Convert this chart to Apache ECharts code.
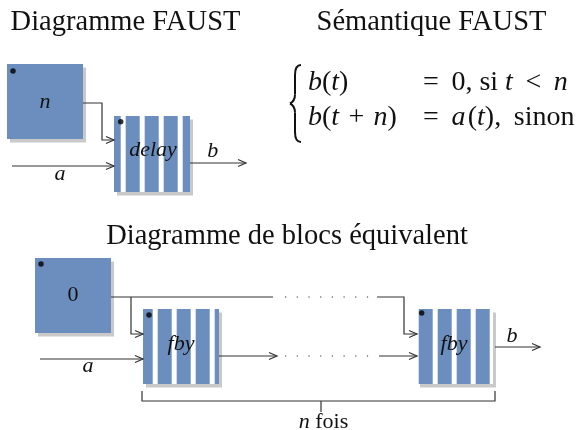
<!DOCTYPE html>
<html><head><meta charset="utf-8">
<script src="https://cdn.jsdelivr.net/npm/echarts@6/dist/echarts.min.js"></script>
<style>html,body{margin:0;padding:0;background:#fff}#c{width:576px;height:430px}</style>
</head><body><div id="c"></div>
<script>
// ---- diagram data (diagram units = page units) ----
// blocks: x, y, width, height, stripe phase (null = plain block)
const blocks = [[7,64,76,75,null],[114,116,76,76,6.7],[35,258,76,75,null],[143,309,76,75,9.7],[417,309,76,75,-3.3]];
const dots = [[13,71],[120.7,121.7],[41,264],[149,315],[421.7,313]];
const arrowWires = [
  [[83,103],[102,103],[102,140],[114,140]],
  [[12,166],[114,166]],
  [[190,163],[246,163]],
  [[377,297],[404,297],[404,334],[417,334]],
  [[131,297],[131,334],[143,334]],
  [[40,359],[143,359]],
  [[219,356],[277,356]],
  [[379,356],[417,356]],
  [[495,347],[540,347]]
];
const plainWires = [
  [[111,297],[273,297]],
  [[142,391],[142,401],[495,401],[495,391]],
  [[321,401],[321,412]]
];
const dottedWires = [
  [[285,297],[370,297]],
  [[285,356],[370,356]]
];
const titles = [["Diagramme FAUST",125.5,23],["Sémantique FAUST",431.5,23],["Diagramme de blocs équivalent",287,237]];
const equations = [
  ["{i|b}({i|t})",308,83],
  ["=\u2009 0, si {i|t}\u2009 <\u2009 {i|n}",423,83],
  ["{i|b}({i|t}\u200a + \u200a{i|n})",308,118],
  ["=\u2009 {i|a}\u200a({i|t}),\u2009 sinon",423,118]
];
const italicLabels = [["n",45,102],["delay",153,150.5],["a",60,174],["b",212.7,151.5],["fby",181,344.5],["a",88,366.5],["fby",454,344],["b",512,336.5]];
const uprightLabels = [["0",73,295.5],["{i|n} fois",323.5,422]];
const braces = [[290,65,142]];

const SERIF = '"Liberation Serif","Times New Roman",serif';
const BLUE = '#6b8ebe', SHADOW = '#c9c9c9', LINE = '#333';

function textEl(api, x, y, str, size, align, italic){
  const p = api.coord([x,y]);
  return {type:'text', x:p[0], y:p[1], style:{text:str, fill:'#111', fontSize:size, fontFamily:SERIF,
    fontStyle: italic?'italic':'normal', align:align, verticalAlign:'middle',
    rich:{i:{fontStyle:'italic', fontSize:size, fontFamily:SERIF, fill:'#111'}}}};
}
function wireRender(list, arrow, dotted){
  return function(params, api){
    const pts = list[params.dataIndex].map(pt => api.coord(pt));
    const ch = [{type:'polyline', shape:{points:pts}, style:{stroke:LINE, lineWidth:1.2, fill:null, lineDash: dotted?[1.2,10.5]:null}}];
    if(arrow){
      const t = pts[pts.length-1];
      ch.push({type:'polyline', shape:{points:[[t[0]-8,t[1]-3.5],[t[0],t[1]],[t[0]-8,t[1]+3.5]]}, style:{stroke:LINE, lineWidth:1.2, fill:null}});
    }
    return {type:'group', children:ch};
  };
}
function textSeries(list, size, align, italic){
  return {type:'custom', coordinateSystem:'cartesian2d', clip:false, z:5,
    data:list.map(d => [d[1], d[2]]),
    renderItem:(params, api) => { const d = list[params.dataIndex]; return textEl(api, d[1], d[2], d[0], size, align, italic); }};
}
function wireSeries(list, arrow, dotted){
  return {type:'custom', coordinateSystem:'cartesian2d', clip:false, z:3,
    data:list.map(l => l[0]), renderItem:wireRender(list, arrow, dotted)};
}

const chart = echarts.init(document.getElementById('c'));
chart.setOption({
  animation:false,
  backgroundColor:'#fff',
  grid:{left:0,right:0,top:0,bottom:0},
  xAxis:{type:'value', min:0, max:576, show:false},
  yAxis:{type:'value', min:0, max:430, inverse:true, show:false},
  series:[
    {type:'custom', coordinateSystem:'cartesian2d', clip:false, z:2,
     data:blocks.map(b => [b[0], b[1]]),
     renderItem:(params, api) => {
       const b = blocks[params.dataIndex];
       const p = api.coord([b[0], b[1]]), q = api.coord([b[0]+b[2], b[1]+b[3]]);
       const w = q[0]-p[0], h = q[1]-p[1];
       const ch = [
         {type:'rect', shape:{x:p[0]+3, y:p[1]+3.5, width:w, height:h}, style:{fill:SHADOW}},
         {type:'rect', shape:{x:p[0], y:p[1], width:w, height:h}, style:{fill:BLUE}}
       ];
       if(b[4] !== null){
         for(let s = b[4]; s < b[2]; s += 19){
           const a = Math.max(0, s), e = Math.min(b[2], s+5);
           if(e > a) ch.push({type:'rect', shape:{x:p[0]+a, y:p[1], width:e-a, height:h}, style:{fill:'#fff'}});
         }
       }
       return {type:'group', children:ch};
     }},
    {type:'scatter', data:dots, symbol:'circle', symbolSize:5.5, itemStyle:{color:'#000'}, z:6, silent:true},
    wireSeries(arrowWires, true, false),
    wireSeries(plainWires, false, false),
    wireSeries(dottedWires, false, true),
    {type:'custom', coordinateSystem:'cartesian2d', clip:false, z:4,
     data:braces.map(b => [b[0], b[1]]),
     renderItem:(params, api) => {
       const b = braces[params.dataIndex];
       const tp = api.coord([b[0], b[1]]), bt = api.coord([b[0], b[2]]);
       const x = tp[0], y0 = tp[1], y1 = bt[1], ym = (y0+y1)/2, sx = x+5, ex = x+11;
       const st = {stroke:'#111', lineWidth:2, fill:null};
       return {type:'group', children:[
         {type:'bezierCurve', shape:{x1:ex, y1:y0, cpx1:sx+1, cpy1:y0, cpx2:sx, cpy2:y0+4, x2:sx, y2:y0+10}, style:st},
         {type:'line', shape:{x1:sx, y1:y0+10, x2:sx, y2:ym-9}, style:st},
         {type:'bezierCurve', shape:{x1:sx, y1:ym-9, cpx1:sx, cpy1:ym-3, cpx2:x+2, cpy2:ym-1, x2:x, y2:ym}, style:st},
         {type:'bezierCurve', shape:{x1:x, y1:ym, cpx1:x+2, cpy1:ym+1, cpx2:sx, cpy2:ym+3, x2:sx, y2:ym+9}, style:st},
         {type:'line', shape:{x1:sx, y1:ym+9, x2:sx, y2:y1-10}, style:st},
         {type:'bezierCurve', shape:{x1:sx, y1:y1-10, cpx1:sx, cpy1:y1-4, cpx2:sx+1, cpy2:y1, x2:ex, y2:y1}, style:st}
       ]};
     }},
    textSeries(titles, 28.5, 'center', false),
    textSeries(equations, 28, 'left', false),
    textSeries(italicLabels, 22, 'center', true),
    textSeries(uprightLabels, 22, 'center', false)
  ]
});
</script></body></html>
